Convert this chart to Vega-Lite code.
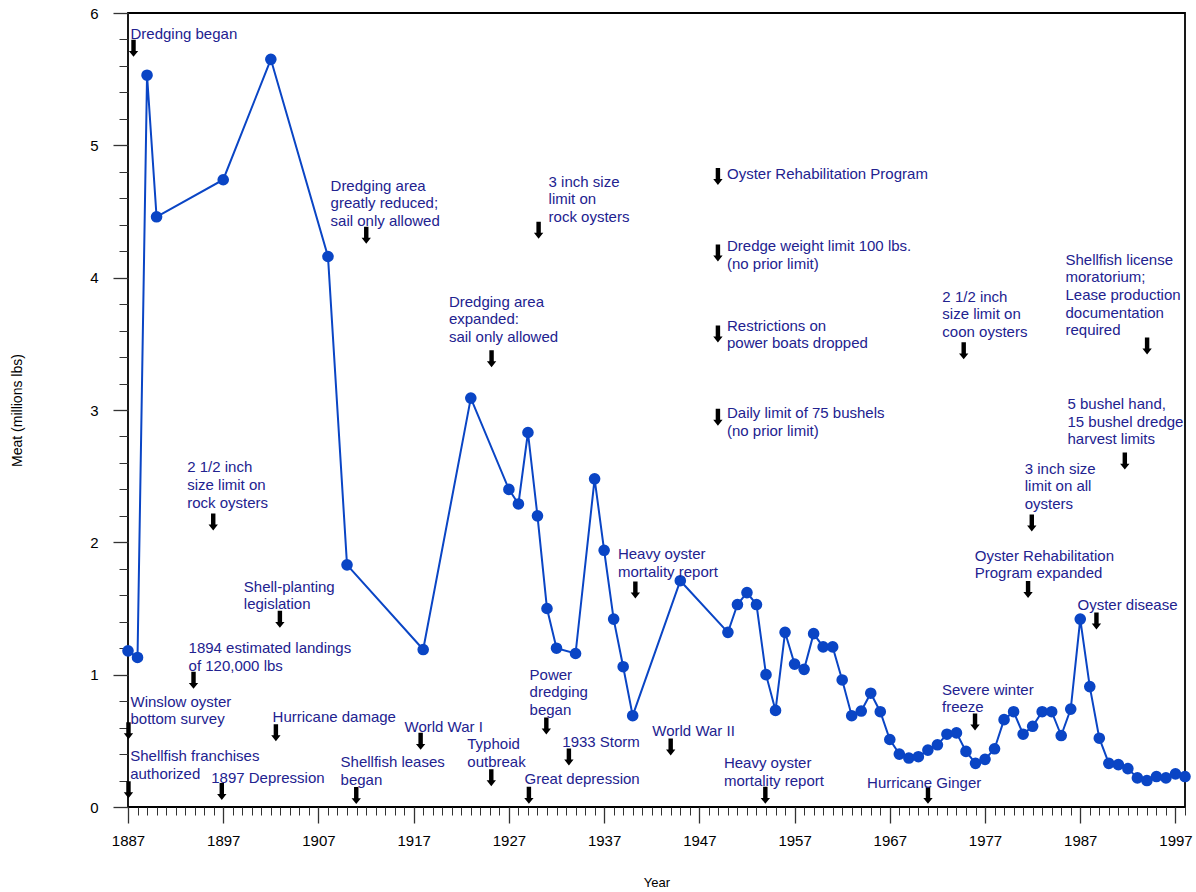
{
  "$schema": "https://vega.github.io/schema/vega-lite/v6.json",
  "width": 1057,
  "height": 794,
  "autosize": {"type": "none"},
  "padding": {"left": 128, "top": 13, "right": 11, "bottom": 85},
  "background": "white",
  "config": {
    "font": "Liberation Sans",
    "view": {"stroke": "#000000", "strokeWidth": 1.8},
    "axis": {
      "grid": false,
      "domain": false,
      "labelFont": "Liberation Sans",
      "titleFont": "Liberation Sans",
      "labelColor": "#000000",
      "titleColor": "#000000",
      "tickColor": "#333333",
      "tickWidth": 1.3,
      "labelFontSize": 15,
      "titleFontSize": 15,
      "titleFontWeight": "normal",
      "labelFlush": false,
      "labelOverlap": false
    }
  },
  "datasets": {
    "landings": [
      {"year": 1887, "meat": 1.18}, {"year": 1888, "meat": 1.13}, {"year": 1889, "meat": 5.53}, {"year": 1890, "meat": 4.46},
      {"year": 1897, "meat": 4.74}, {"year": 1902, "meat": 5.65}, {"year": 1908, "meat": 4.16}, {"year": 1910, "meat": 1.83},
      {"year": 1918, "meat": 1.19}, {"year": 1923, "meat": 3.09}, {"year": 1927, "meat": 2.40}, {"year": 1928, "meat": 2.29},
      {"year": 1929, "meat": 2.83}, {"year": 1930, "meat": 2.20}, {"year": 1931, "meat": 1.50}, {"year": 1932, "meat": 1.20},
      {"year": 1934, "meat": 1.16}, {"year": 1936, "meat": 2.48}, {"year": 1937, "meat": 1.94}, {"year": 1938, "meat": 1.42},
      {"year": 1939, "meat": 1.06}, {"year": 1940, "meat": 0.69}, {"year": 1945, "meat": 1.71}, {"year": 1950, "meat": 1.32},
      {"year": 1951, "meat": 1.53}, {"year": 1952, "meat": 1.62}, {"year": 1953, "meat": 1.53}, {"year": 1954, "meat": 1.00},
      {"year": 1955, "meat": 0.73}, {"year": 1956, "meat": 1.32}, {"year": 1957, "meat": 1.08}, {"year": 1958, "meat": 1.04},
      {"year": 1959, "meat": 1.31}, {"year": 1960, "meat": 1.21}, {"year": 1961, "meat": 1.21}, {"year": 1962, "meat": 0.96},
      {"year": 1963, "meat": 0.69}, {"year": 1964, "meat": 0.725}, {"year": 1965, "meat": 0.86}, {"year": 1966, "meat": 0.72},
      {"year": 1967, "meat": 0.51}, {"year": 1968, "meat": 0.40}, {"year": 1969, "meat": 0.37}, {"year": 1970, "meat": 0.38},
      {"year": 1971, "meat": 0.43}, {"year": 1972, "meat": 0.47}, {"year": 1973, "meat": 0.55}, {"year": 1974, "meat": 0.56},
      {"year": 1975, "meat": 0.42}, {"year": 1976, "meat": 0.33}, {"year": 1977, "meat": 0.36}, {"year": 1978, "meat": 0.44},
      {"year": 1979, "meat": 0.66}, {"year": 1980, "meat": 0.72}, {"year": 1981, "meat": 0.55}, {"year": 1982, "meat": 0.61},
      {"year": 1983, "meat": 0.72}, {"year": 1984, "meat": 0.72}, {"year": 1985, "meat": 0.54}, {"year": 1986, "meat": 0.74},
      {"year": 1987, "meat": 1.42}, {"year": 1988, "meat": 0.91}, {"year": 1989, "meat": 0.52}, {"year": 1990, "meat": 0.33},
      {"year": 1991, "meat": 0.32}, {"year": 1992, "meat": 0.29}, {"year": 1993, "meat": 0.22}, {"year": 1994, "meat": 0.20},
      {"year": 1995, "meat": 0.23}, {"year": 1996, "meat": 0.22}, {"year": 1997, "meat": 0.25}, {"year": 1998, "meat": 0.23}
    ],
    "notes": [
      {"label": "Dredging began", "tx": 1887.26, "ty": 5.907, "ax": 1887.58, "ay": 5.733},
      {"label": "Dredging area\ngreatly reduced;\nsail only allowed", "tx": 1908.27, "ty": 4.759, "ax": 1912.02, "ay": 4.320},
      {"label": "3 inch size\nlimit on\nrock oysters", "tx": 1931.17, "ty": 4.789, "ax": 1930.12, "ay": 4.358},
      {"label": "Oyster Rehabilitation Program", "tx": 1949.90, "ty": 4.849, "ax": 1948.95, "ay": 4.764},
      {"label": "Dredge weight limit 100 lbs.\n(no prior limit)", "tx": 1949.90, "ty": 4.300, "ax": 1948.95, "ay": 4.186},
      {"label": "Restrictions on\npower boats dropped", "tx": 1949.90, "ty": 3.701, "ax": 1948.95, "ay": 3.574},
      {"label": "Daily limit of 75 bushels\n(no prior limit)", "tx": 1949.90, "ty": 3.041, "ax": 1948.95, "ay": 2.946},
      {"label": "Dredging area\nexpanded:\nsail only allowed", "tx": 1920.70, "ty": 3.882, "ax": 1925.18, "ay": 3.388},
      {"label": "2 1/2 inch\nsize limit on\nrock oysters", "tx": 1893.22, "ty": 2.630, "ax": 1895.95, "ay": 2.154},
      {"label": "Shell-planting\nlegislation", "tx": 1899.16, "ty": 1.728, "ax": 1902.95, "ay": 1.418},
      {"label": "1894 estimated landings\nof 120,000 lbs", "tx": 1893.36, "ty": 1.265, "ax": 1893.88, "ay": 0.957},
      {"label": "Winslow oyster\nbottom survey", "tx": 1887.26, "ty": 0.861, "ax": 1887.05, "ay": 0.577},
      {"label": "Hurricane damage", "tx": 1902.18, "ty": 0.741, "ax": 1902.53, "ay": 0.562},
      {"label": "World War I", "tx": 1916.04, "ty": 0.665, "ax": 1917.73, "ay": 0.496},
      {"label": "Typhoid\noutbreak", "tx": 1922.63, "ty": 0.540, "ax": 1925.15, "ay": 0.221},
      {"label": "Shellfish franchises\nauthorized", "tx": 1887.23, "ty": 0.446, "ax": 1887.05, "ay": 0.131},
      {"label": "1897 Depression", "tx": 1895.74, "ty": 0.283, "ax": 1896.85, "ay": 0.117},
      {"label": "Shellfish leases\nbegan", "tx": 1909.32, "ty": 0.401, "ax": 1910.97, "ay": 0.086},
      {"label": "Power\ndredging\nbegan", "tx": 1929.17, "ty": 1.063, "ax": 1930.93, "ay": 0.612},
      {"label": "1933 Storm", "tx": 1932.61, "ty": 0.557, "ax": 1933.30, "ay": 0.378},
      {"label": "Great depression", "tx": 1928.65, "ty": 0.275, "ax": 1929.10, "ay": 0.088},
      {"label": "Heavy oyster\nmortality report", "tx": 1938.45, "ty": 1.975, "ax": 1940.28, "ay": 1.640},
      {"label": "World War II", "tx": 1942.06, "ty": 0.640, "ax": 1943.99, "ay": 0.453},
      {"label": "Heavy oyster\nmortality report", "tx": 1949.58, "ty": 0.396, "ax": 1953.93, "ay": 0.088},
      {"label": "Hurricane Ginger", "tx": 1964.61, "ty": 0.245, "ax": 1971.01, "ay": 0.088},
      {"label": "Severe winter\nfreeze", "tx": 1972.48, "ty": 0.950, "ax": 1975.95, "ay": 0.642},
      {"label": "2 1/2 inch\nsize limit on\ncoon oysters", "tx": 1972.52, "ty": 3.920, "ax": 1974.76, "ay": 3.447},
      {"label": "Shellfish license\nmoratorium;\nLease production\ndocumentation\nrequired", "tx": 1985.45, "ty": 4.199, "ax": 1994.02, "ay": 3.484},
      {"label": "5 bushel hand,\n15 bushel dredge\nharvest limits", "tx": 1985.66, "ty": 3.109, "ax": 1991.68, "ay": 2.614},
      {"label": "3 inch size\nlimit on all\noysters", "tx": 1981.17, "ty": 2.622, "ax": 1981.91, "ay": 2.146},
      {"label": "Oyster Rehabilitation\nProgram expanded", "tx": 1975.92, "ty": 1.963, "ax": 1981.52, "ay": 1.644},
      {"label": "Oyster disease", "tx": 1986.71, "ty": 1.592, "ax": 1988.70, "ay": 1.406}
    ]
  },
  "resolve": {"axis": {"x": "independent", "y": "independent"}},
  "layer": [
    {
      "data": {"name": "landings"},
      "mark": {"type": "line", "color": "#0a45c5", "strokeWidth": 2},
      "encoding": {
        "x": {
          "field": "year", "type": "quantitative",
          "scale": {"domain": [1887, 1998], "nice": false, "zero": false},
          "axis": {
            "orient": "bottom",
            "values": [1887, 1897, 1907, 1917, 1927, 1937, 1947, 1957, 1967, 1977, 1987, 1997],
            "format": "d", "tickSize": 16, "labelPadding": 10,
            "title": "Year", "titleY": 75, "titleBaseline": "middle", "titleFontSize": 13
          }
        },
        "y": {
          "field": "meat", "type": "quantitative",
          "scale": {"domain": [0, 6], "nice": false, "zero": true},
          "axis": {
            "orient": "left",
            "values": [0, 1, 2, 3, 4, 5, 6],
            "tickSize": 15, "labelPadding": 15,
            "title": "Meat (millions lbs)", "titleX": -111, "titleBaseline": "middle", "titleFontSize": 14
          }
        }
      }
    },
    {
      "data": {"name": "landings"},
      "mark": {"type": "point", "shape": "circle", "filled": true, "size": 135, "color": "#0a45c5", "opacity": 1},
      "encoding": {
        "x": {
          "field": "year", "type": "quantitative",
          "scale": {"domain": [1887, 1998], "nice": false, "zero": false},
          "axis": {"orient": "bottom", "tickCount": 111, "labels": false, "tickSize": 8, "title": null, "tickWidth": 1}
        },
        "y": {
          "field": "meat", "type": "quantitative",
          "scale": {"domain": [0, 6], "nice": false, "zero": true},
          "axis": {"orient": "left", "tickCount": 30, "labels": false, "tickSize": 9, "title": null, "tickWidth": 1}
        }
      }
    },
    {
      "data": {"name": "notes"},
      "mark": {"type": "point", "shape": "M-0.26,-1L0.26,-1L0.26,0.3L0.55,0.3L0,1L-0.55,0.3L-0.26,0.3Z", "filled": true, "size": 289, "color": "#000000", "opacity": 1, "strokeWidth": 0},
      "encoding": {
        "x": {"field": "ax", "type": "quantitative", "scale": {"domain": [1887, 1998], "nice": false, "zero": false}, "axis": null},
        "y": {"field": "ay", "type": "quantitative", "scale": {"domain": [0, 6], "nice": false, "zero": true}, "axis": null}
      }
    },
    {
      "data": {"name": "notes"},
      "mark": {"type": "text", "align": "left", "baseline": "top", "dy": 1.5, "fontSize": 15, "lineHeight": 17.6, "lineBreak": "\n", "color": "#22228f", "font": "Liberation Sans"},
      "encoding": {
        "x": {"field": "tx", "type": "quantitative", "scale": {"domain": [1887, 1998], "nice": false, "zero": false}, "axis": null},
        "y": {"field": "ty", "type": "quantitative", "scale": {"domain": [0, 6], "nice": false, "zero": true}, "axis": null},
        "text": {"field": "label", "type": "nominal"}
      }
    }
  ]
}
